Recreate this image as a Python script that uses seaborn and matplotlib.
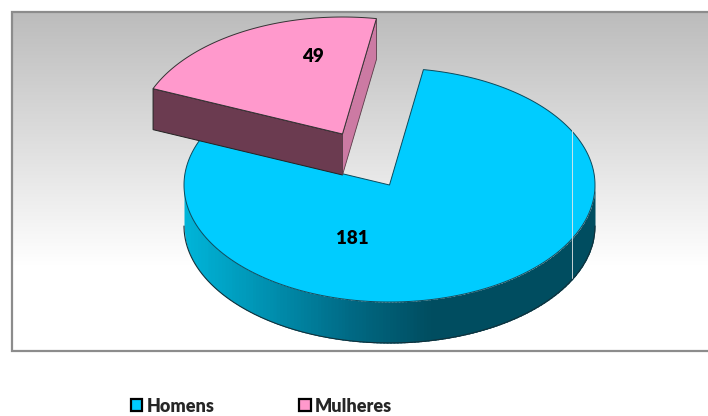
import numpy as np
import matplotlib
matplotlib.use("Agg")
import matplotlib.pyplot as plt
from matplotlib.patches import Patch
import seaborn as sns

categories = ["Homens", "Mulheres"]
values = [181, 49]
colors = ["#00ccff", "#ff99cc"]

sns.set_theme(style="white")
plt.rcParams["font.family"] = ["Lato", "DejaVu Sans"]

# geometria do "pie 3D", em pixels da imagem
CX, CY = 389.5, 185
RX, RY = 205.5, 117
DEPTH = 41
START = 9.5  # graus a partir do topo, sentido horário
OFFSET = (-47, -51)  # fatia destacada


def pt(ang, cx=CX, cy=CY):
    a = np.radians(ang)
    return cx + RX * np.sin(a), cy - RY * np.cos(a)


total = sum(values)
sweep_h = 360 * values[0] / total
sweep_m = 360 * values[1] / total

fig, ax = plt.subplots(figsize=(7.08, 4.16), dpi=100)
fig.subplots_adjust(0, 0, 1, 1)
ax.axis("off")

# fundo em degradê
grad = sns.blend_palette(["#bcbcbc", "#ffffff"], 150) + [(1, 1, 1)] * 50
ax.imshow(np.array(grad)[:, None, :], extent=(12, 708, 351, 12), aspect="auto", zorder=0)
ax.plot([708, 12, 12, 708], [11.5, 11.5, 351, 351], color="#8c8c8c", lw=1.6, zorder=1, solid_joinstyle="miter")
ax.set_xlim(0, 708)
ax.set_ylim(416, 0)

# parede lateral azul, em tiras
side = sns.blend_palette(["#00b4d8", "#0090b0", "#006a85", "#004d60", "#004d60", "#004d60"], 120)
xs = np.linspace(CX - RX, CX + RX, 121)
for i in range(120):
    xx = np.linspace(xs[i], xs[i + 1] + 2, 6).clip(CX - RX, CX + RX)
    low = CY + RY * np.sqrt(np.clip(1 - ((xx - CX) / RX) ** 2, 0, 1))
    ax.fill_between(xx, low, low + DEPTH, color=side[i], lw=0, zorder=2)
tt = np.linspace(90, 270, 200)
ax.plot(*pt(tt, CX, CY + DEPTH), color="#12303a", lw=0.8, zorder=3)

# topo azul
ang = np.linspace(START, START + sweep_h, 300)
x, y = pt(ang)
ax.fill(np.r_[CX, x], np.r_[CY, y], facecolor=colors[0], edgecolor="#0b4a5c", lw=0.7, zorder=4)

# fatia rosa destacada
px, py = CX + OFFSET[0], CY + OFFSET[1]
ang = np.linspace(START - sweep_m, START, 120)
x, y = pt(ang, px, py)
ax.fill([px, px, x[0], x[0]], [py, py + DEPTH, y[0] + DEPTH, y[0]], facecolor="#6b3b50", edgecolor="#222222", lw=0.7, zorder=5)
ax.fill([px, px, x[-1], x[-1]], [py, py + DEPTH, y[-1] + DEPTH, y[-1]], facecolor="#cc7aa3", edgecolor="#5a3a48", lw=0.6, zorder=5)
ax.fill(np.r_[px, x], np.r_[py, y], facecolor=colors[1], edgecolor="#333333", lw=0.7, zorder=6)

# fio branco que corta o gráfico
ax.plot([572, 572], [130, 278], color="#e8e8e8", lw=0.6, zorder=7)

ax.text(352, 239, str(values[0]), ha="center", va="center", fontsize=13.5, fontweight="heavy", color="black", zorder=8)
ax.text(313, 56, str(values[1]), ha="center", va="center", fontsize=13.5, fontweight="heavy", color="black", zorder=8)

handles = [Patch(facecolor=c, edgecolor="black", lw=1.6) for c in colors]
ax.legend(handles, categories, ncol=2, frameon=False, loc="center left", bbox_to_anchor=(131 / 708, 1 - 406 / 416),
          borderpad=0, borderaxespad=0, handlelength=0.62, handleheight=0.62, handletextpad=0.25, columnspacing=4.7,
          prop={"size": 13, "weight": "heavy"})

fig.savefig("out.png", dpi=100)
